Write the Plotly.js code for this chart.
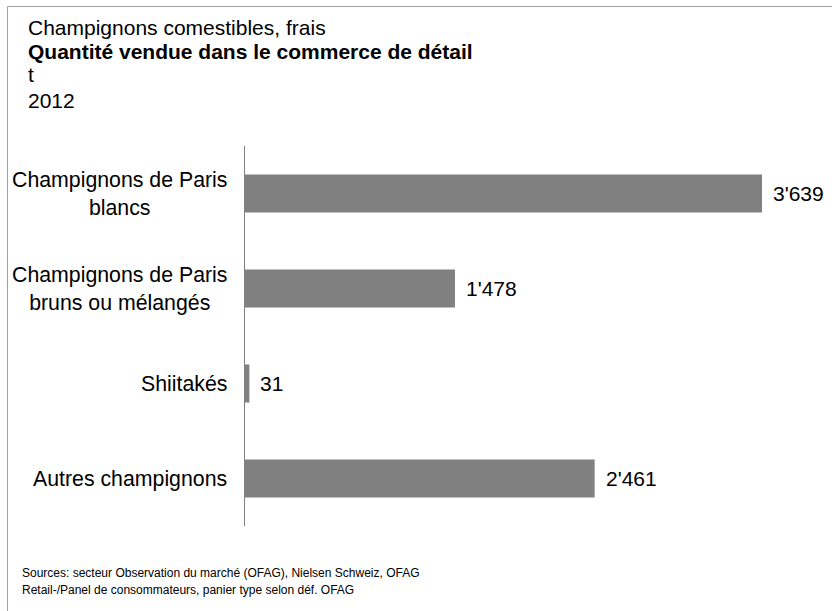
<!DOCTYPE html>
<html>
<head>
<meta charset="utf-8">
<script src="https://cdn.plot.ly/plotly-3.0.1.min.js"></script>
<style>html,body{margin:0;padding:0;background:#fff;}</style>
</head>
<body>
<div id="chart" style="width:832px;height:611px;"></div>
<script>
const categories = ["Champignons de Paris<br>blancs", "Champignons de Paris<br>bruns ou mélangés", "Shiitakés", "Autres champignons"];
const values = [3639, 1478, 31, 2461];
const valueLabels = ["3'639", "1'478", "31", "2'461"];
const titleLines = ["Champignons comestibles, frais", "<b>Quantité vendue dans le commerce de détail</b>", "t", "2012"];
const footerLines = ["Sources: secteur Observation du marché (OFAG), Nielsen Schweiz, OFAG", "Retail-/Panel de consommateurs, panier type selon déf. OFAG"];

const W = 832, H = 611;
const M = {l: 245, r: 70, t: 146, b: 85};
const PW = W - M.l - M.r, PH = H - M.t - M.b;
const px2x = p => (p - M.l) / PW;
const py2y = p => (H - M.b - p) / PH;
const FONT = 'Arial, "Liberation Sans", sans-serif';

const annotations = [];
// title lines
const titleY = [28, 51.5, 75, 100];
titleLines.forEach((t, i) => annotations.push({
  text: t, xref: 'paper', yref: 'paper', x: px2x(26), y: py2y(titleY[i]),
  xanchor: 'left', yanchor: 'middle', showarrow: false,
  font: {family: FONT, size: 21, color: '#000'}
}));
// footer
const footY = [573, 590];
footerLines.forEach((t, i) => annotations.push({
  text: t, xref: 'paper', yref: 'paper', x: px2x(20), y: py2y(footY[i]),
  xanchor: 'left', yanchor: 'middle', showarrow: false,
  font: {family: '"Liberation Sans Narrow", "Arial Narrow", Arial, sans-serif', size: 12, color: '#000'}
}));
// category labels
categories.forEach((c, i) => annotations.push({
  text: c, xref: 'paper', yref: 'y', x: 0, y: i, xshift: -16,
  xanchor: 'right', yanchor: 'middle', align: 'center', showarrow: false,
  font: {family: FONT, size: 21.3, color: '#000'}
}));
// value labels
values.forEach((v, i) => annotations.push({
  text: valueLabels[i], xref: 'x', yref: 'y', x: v, y: i, xshift: 9,
  xanchor: 'left', yanchor: 'middle', showarrow: false,
  font: {family: FONT, size: 21, color: '#000'}
}));

const data = [{
  type: 'bar', orientation: 'h',
  x: values, y: categories.map((c, i) => i),
  width: 0.4,
  marker: {color: '#808080', line: {width: 0}},
  hoverinfo: 'skip'
}];

const layout = {
  width: W, height: H,
  margin: M,
  paper_bgcolor: '#fff', plot_bgcolor: '#fff',
  showlegend: false,
  xaxis: {range: [0, 3639], visible: false, fixedrange: true},
  yaxis: {range: [3.5, -0.5], showticklabels: false, ticks: '', showgrid: false, zeroline: false,
          showline: true, linecolor: '#808080', linewidth: 1.5, fixedrange: true},
  annotations: annotations,
  shapes: [{
    type: 'rect', xref: 'paper', yref: 'paper',
    x0: px2x(7.5), y1: py2y(6.5), x1: px2x(900), y0: py2y(700),
    line: {color: '#a0a0a0', width: 1}, fillcolor: 'rgba(0,0,0,0)', layer: 'below'
  }]
};

Plotly.newPlot('chart', data, layout, {displayModeBar: false, staticPlot: true});
</script>
</body>
</html>
